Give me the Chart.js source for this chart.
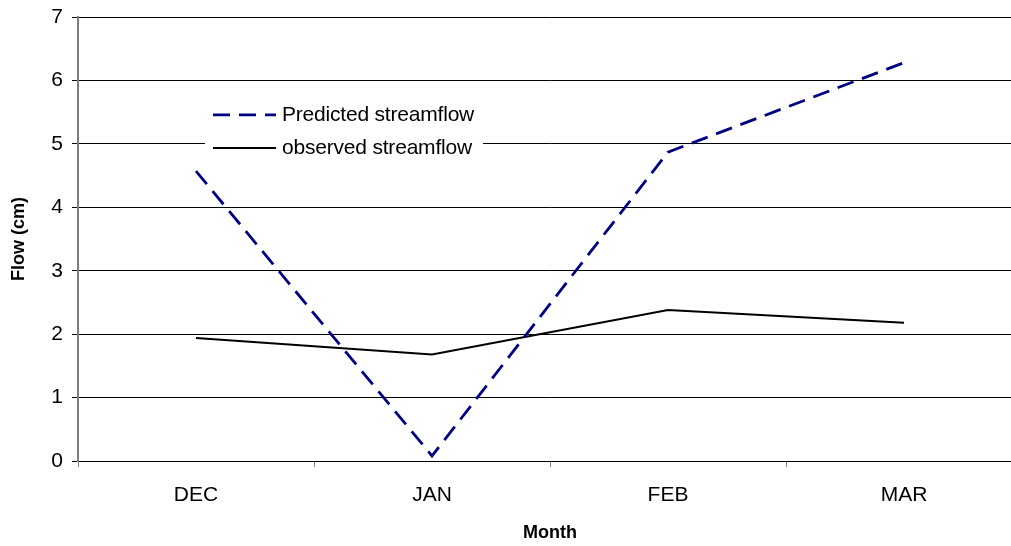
<!DOCTYPE html>
<html>
<head>
<meta charset="utf-8">
<script src="https://cdn.jsdelivr.net/npm/chart.js@4"></script>
<style>
  html, body { margin: 0; padding: 0; background: #fff; overflow: hidden; }
  #wrap { width: 1011px; height: 546px; overflow: hidden; }
  canvas { display: block; }
</style>
</head>
<body>
<div id="wrap"><canvas id="c" width="1030" height="546"></canvas></div>
<script>
// Monthly streamflow, predicted vs observed
const months = ['DEC', 'JAN', 'FEB', 'MAR'];
const predictedFlow = [4.57, 0.08, 4.87, 6.28];
const observedFlow = [1.94, 1.68, 2.38, 2.18];
const yTicks = [0, 1, 2, 3, 4, 5, 6, 7];

const FONT = '"Liberation Sans", Arial, sans-serif';

// White legend box drawn inside the plot area, over the gridlines
const insideLegend = {
  id: 'insideLegend',
  beforeDatasetsDraw(chart) {
    const ctx = chart.ctx;
    const x = chart.scales.x, y = chart.scales.y;
    const left = x.left + 127, top = y.getPixelForValue(5.74);
    const w = 278, h = 62;
    ctx.save();
    ctx.fillStyle = '#ffffff';
    ctx.fillRect(left, top, w, h);
    const rows = [
      { label: 'Predicted streamflow', ds: chart.data.datasets[0] },
      { label: 'observed streamflow', ds: chart.data.datasets[1] }
    ];
    rows.forEach((r, i) => {
      const cy = top + 18 + i * 33;
      ctx.beginPath();
      ctx.strokeStyle = r.ds.borderColor;
      ctx.lineWidth = r.ds.borderWidth;
      ctx.setLineDash(r.ds.borderDash || []);
      ctx.moveTo(left + 8, cy);
      ctx.lineTo(left + 71, cy);
      ctx.stroke();
      ctx.setLineDash([]);
      ctx.fillStyle = '#000';
      ctx.font = '21px ' + FONT;
      ctx.letterSpacing = '-0.2px';
      ctx.textBaseline = 'middle';
      ctx.textAlign = 'left';
      ctx.fillText(r.label, left + 77, cy);
    });
    ctx.restore();
  }
};

new Chart(document.getElementById('c'), {
  type: 'line',
  data: {
    labels: months,
    datasets: [
      {
        label: 'Predicted streamflow',
        data: predictedFlow,
        borderColor: '#000080',
        borderWidth: 2.8,
        borderDash: [17, 9],
        pointRadius: 0,
        tension: 0,
        fill: false
      },
      {
        label: 'observed streamflow',
        data: observedFlow,
        borderColor: '#000000',
        borderWidth: 2,
        pointRadius: 0,
        tension: 0,
        fill: false
      }
    ]
  },
  options: {
    responsive: false,
    devicePixelRatio: 1,
    animation: false,
    layout: { padding: { left: 0, top: 17, right: 8, bottom: 0 } },
    plugins: {
      legend: { display: false },
      tooltip: { enabled: false }
    },
    scales: {
      x: {
        offset: true,
        grid: {
          offset: true,
          drawOnChartArea: false,
          drawTicks: true,
          tickLength: 6,
          color: '#808080',
          lineWidth: 1
        },
        border: { display: false },
        ticks: {
          color: '#000',
          font: { family: FONT, size: 21 },
          padding: 16,
          maxRotation: 0
        },
        title: {
          display: true,
          text: 'Month',
          color: '#000',
          font: { family: FONT, size: 18, weight: 'bold' },
          padding: { top: 8, bottom: 2 }
        },
        afterFit(scale) { scale.height = 85; }
      },
      y: {
        min: 0,
        max: 7,
        afterBuildTicks(scale) { scale.ticks = yTicks.map(v => ({ value: v })); },
        grid: {
          color: '#000',
          lineWidth: 1,
          tickLength: 6
        },
        border: { display: true, color: '#808080', width: 2 },
        ticks: {
          color: '#000',
          font: { family: FONT, size: 21 },
          padding: 9
        },
        title: {
          display: true,
          text: 'Flow (cm)',
          color: '#000',
          font: { family: FONT, size: 18, weight: 'bold' },
          padding: { top: 8, bottom: 0 }
        },
        afterFit(scale) {
          scale.width = 78;
          scale.paddingTop = 0;
          scale.paddingBottom = 0;
        }
      }
    }
  },
  plugins: [insideLegend]
});
</script>
</body>
</html>
